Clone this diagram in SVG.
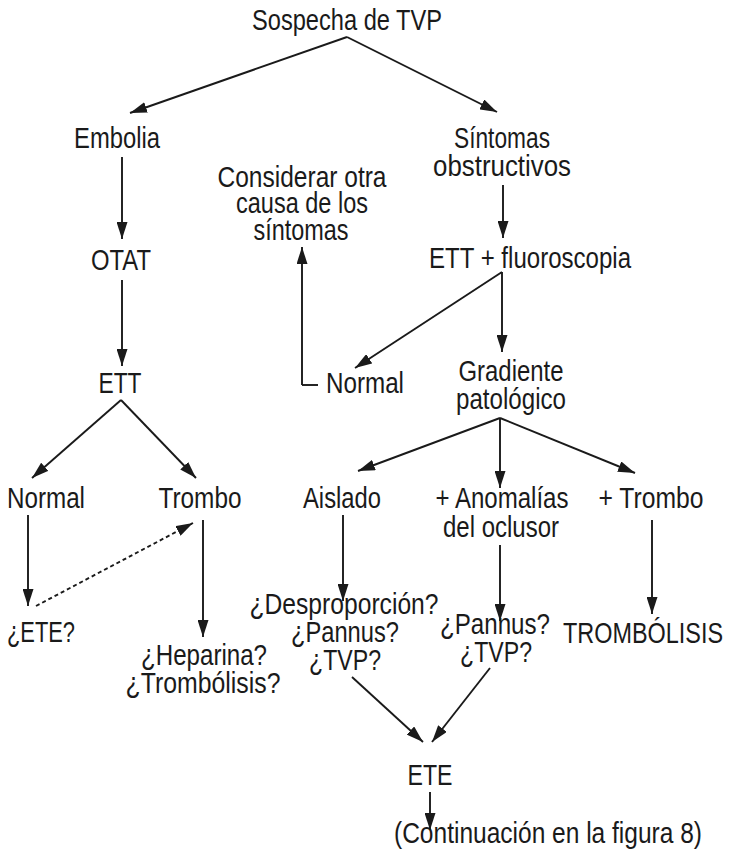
<svg xmlns="http://www.w3.org/2000/svg" width="730" height="857" viewBox="0 0 730 857">
<defs>
<marker id="ah" viewBox="0 0 17 11" refX="17" refY="5.5" markerWidth="17" markerHeight="11" markerUnits="userSpaceOnUse" orient="auto">
<path d="M0,0 L17,5.5 L0,11 Z" fill="#1a1a1a"/>
</marker>
<style>
text{font-family:"Liberation Sans",Arial,sans-serif;font-size:29px;fill:#1a1a1a;text-anchor:middle}
.c{fill:none;stroke:#1a1a1a;stroke-width:1.9}
.a{marker-end:url(#ah)}
.d{stroke-dasharray:4,3}
</style>
</defs>
<rect width="730" height="857" fill="#fff"/>
<g id="connectors">
<path class="c a" d="M347,37 L130,113"/>
<path class="c a" d="M347,37 L497,112"/>
<path class="c a" d="M122,157 L122,239"/>
<path class="c a" d="M122,280 L122,366"/>
<path class="c a" d="M503,185 L503,238"/>
<path class="c" d="M302,385 L318,385"/>
<path class="c a" d="M302,385 L302,247"/>
<path class="c a" d="M502,272 L355,368"/>
<path class="c a" d="M502,272 L502,352"/>
<path class="c a" d="M121,400 L32,478"/>
<path class="c a" d="M121,400 L196,478"/>
<path class="c a" d="M500,418 L358,471"/>
<path class="c a" d="M500,418 L500,488"/>
<path class="c a" d="M500,418 L635,473"/>
<path class="c a" d="M28,515 L28,606"/>
<path class="c a d" d="M36,606 L193,523"/>
<path class="c a" d="M203,520 L203,637"/>
<path class="c a" d="M343,515 L343,601"/>
<path class="c a" d="M500,545 L500,621"/>
<path class="c a" d="M652,520 L652,614"/>
<path class="c a" d="M352,677 L423,742"/>
<path class="c a" d="M490,668 L432,742"/>
<path class="c a" d="M430,792 L430,830"/>
</g>
<g id="n-sospecha"><text x="347" y="30" textLength="190" lengthAdjust="spacingAndGlyphs">Sospecha de TVP</text></g>
<g id="n-embolia"><text x="117" y="148" textLength="86" lengthAdjust="spacingAndGlyphs">Embolia</text></g>
<g id="n-sintomas"><text x="502" y="148" textLength="96" lengthAdjust="spacingAndGlyphs">Síntomas</text><text x="502" y="176" textLength="138" lengthAdjust="spacingAndGlyphs">obstructivos</text></g>
<g id="n-considerar"><text x="302" y="187" textLength="169" lengthAdjust="spacingAndGlyphs">Considerar otra</text><text x="302" y="213" textLength="132" lengthAdjust="spacingAndGlyphs">causa de los</text><text x="301" y="240" textLength="95" lengthAdjust="spacingAndGlyphs">síntomas</text></g>
<g id="n-otat"><text x="121" y="270" textLength="60" lengthAdjust="spacingAndGlyphs">OTAT</text></g>
<g id="n-ettfluoro"><text x="530" y="268" textLength="202" lengthAdjust="spacingAndGlyphs">ETT + fluoroscopia</text></g>
<g id="n-ett"><text x="120" y="393" textLength="43" lengthAdjust="spacingAndGlyphs">ETT</text></g>
<g id="n-normal2"><text x="365" y="393" textLength="78" lengthAdjust="spacingAndGlyphs">Normal</text></g>
<g id="n-gradiente"><text x="511" y="381" textLength="105" lengthAdjust="spacingAndGlyphs">Gradiente</text><text x="511" y="409" textLength="110" lengthAdjust="spacingAndGlyphs">patológico</text></g>
<g id="n-normal1"><text x="46" y="508" textLength="78" lengthAdjust="spacingAndGlyphs">Normal</text></g>
<g id="n-trombo1"><text x="200" y="508" textLength="83" lengthAdjust="spacingAndGlyphs">Trombo</text></g>
<g id="n-aislado"><text x="342" y="508" textLength="78" lengthAdjust="spacingAndGlyphs">Aislado</text></g>
<g id="n-anomalias"><text x="502" y="508" textLength="133" lengthAdjust="spacingAndGlyphs">+ Anomalías</text><text x="501" y="537" textLength="116" lengthAdjust="spacingAndGlyphs">del oclusor</text></g>
<g id="n-trombo2"><text x="651" y="508" textLength="105" lengthAdjust="spacingAndGlyphs">+ Trombo</text></g>
<g id="n-ete1"><text x="41" y="642" textLength="68" lengthAdjust="spacingAndGlyphs">¿ETE?</text></g>
<g id="n-heparina"><text x="204" y="665" textLength="126" lengthAdjust="spacingAndGlyphs">¿Heparina?</text><text x="203" y="693" textLength="155" lengthAdjust="spacingAndGlyphs">¿Trombólisis?</text></g>
<g id="n-despro"><text x="344" y="614" textLength="189" lengthAdjust="spacingAndGlyphs">¿Desproporción?</text><text x="345" y="642" textLength="108" lengthAdjust="spacingAndGlyphs">¿Pannus?</text><text x="345" y="670" textLength="72" lengthAdjust="spacingAndGlyphs">¿TVP?</text></g>
<g id="n-pannus"><text x="495" y="634" textLength="110" lengthAdjust="spacingAndGlyphs">¿Pannus?</text><text x="496" y="662" textLength="72" lengthAdjust="spacingAndGlyphs">¿TVP?</text></g>
<g id="n-trombolisis"><text x="643" y="643" textLength="160" lengthAdjust="spacingAndGlyphs">TROMBÓLISIS</text></g>
<g id="n-ete2"><text x="430" y="785" textLength="45" lengthAdjust="spacingAndGlyphs">ETE</text></g>
<g id="n-cont"><text x="548" y="843" textLength="308" lengthAdjust="spacingAndGlyphs">(Continuación en la figura 8)</text></g>
</svg>
